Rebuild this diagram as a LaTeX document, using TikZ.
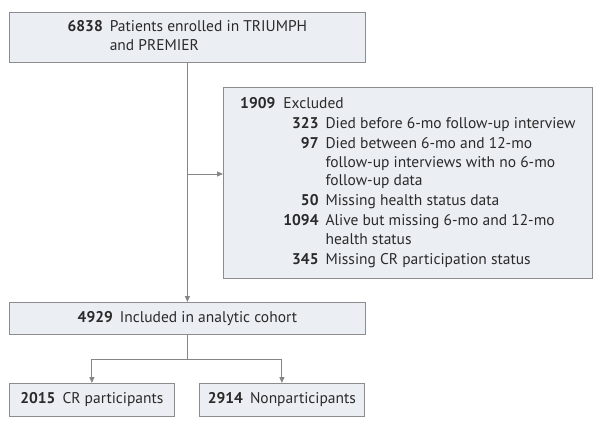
\documentclass[tikz,border=0pt]{standalone}
\usepackage{fontspec}
\setmainfont{PT Sans}
\usetikzlibrary{arrows.meta}
\definecolor{boxfill}{HTML}{EBEFF3}
\definecolor{boxline}{HTML}{8C8C8C}
\definecolor{linecol}{HTML}{858585}
\definecolor{txt}{HTML}{2A2A2A}
\begin{document}
\begin{tikzpicture}[x=1pt,y=-1pt,
  box/.style={draw=boxline, fill=boxfill, line width=0.8pt, inner sep=0pt, anchor=north west, text=txt, font=\fontsize{15.5}{18.5}\selectfont},
  conn/.style={draw=linecol, line width=0.9pt},
  arr/.style={conn, -{Triangle[length=6pt,width=5pt]}}]
\useasboundingbox (0,0) rectangle (604,427);
\node[box, minimum width=356pt, minimum height=50pt] (top) at (9,12)
  {\begin{tabular}{@{}r@{\hspace{7pt}}l@{}}\textbf{6838} & Patients enrolled in TRIUMPH\\ & and PREMIER\end{tabular}};
\node[box, minimum width=369pt, minimum height=191pt] (excl) at (223,87)
  {\begin{tabular}{@{}r@{\hspace{8pt}}r@{\hspace{7pt}}l@{}}
\textbf{1909} & \multicolumn{2}{@{}l@{}}{Excluded}\\[1.5pt]
& \textbf{323} & Died before 6-mo follow-up interview\\[1.5pt]
& \textbf{97} & Died between 6-mo and 12-mo\\
& & follow-up interviews with no 6-mo\\
& & follow-up data\\[1.5pt]
& \textbf{50} & Missing health status data\\[1.5pt]
& \textbf{1094} & Alive but missing 6-mo and 12-mo\\
& & health status\\[1.5pt]
& \textbf{345} & Missing CR participation status
\end{tabular}};
\node[box, minimum width=356pt, minimum height=32pt] (cohort) at (9,302)
  {\textbf{4929}\hspace{7pt}Included in analytic cohort};
\node[box, minimum width=165pt, minimum height=33pt] (crp) at (9,383)
  {\textbf{2015}\hspace{7pt}CR participants};
\node[box, minimum width=165pt, minimum height=33pt] (nonp) at (199,383)
  {\textbf{2914}\hspace{7pt}Nonparticipants};
\coordinate (split) at (top.south |- 0,174);
\coordinate (fork) at (cohort.south |- 0,359);
\draw[arr] (top.south) -- (cohort.north);
\draw[arr] (split) -- (split -| excl.west);
\draw[conn] (cohort.south) -- (fork);
\draw[arr] (fork) -| (crp.north);
\draw[arr] (fork) -| (nonp.north);
\end{tikzpicture}
\end{document}
